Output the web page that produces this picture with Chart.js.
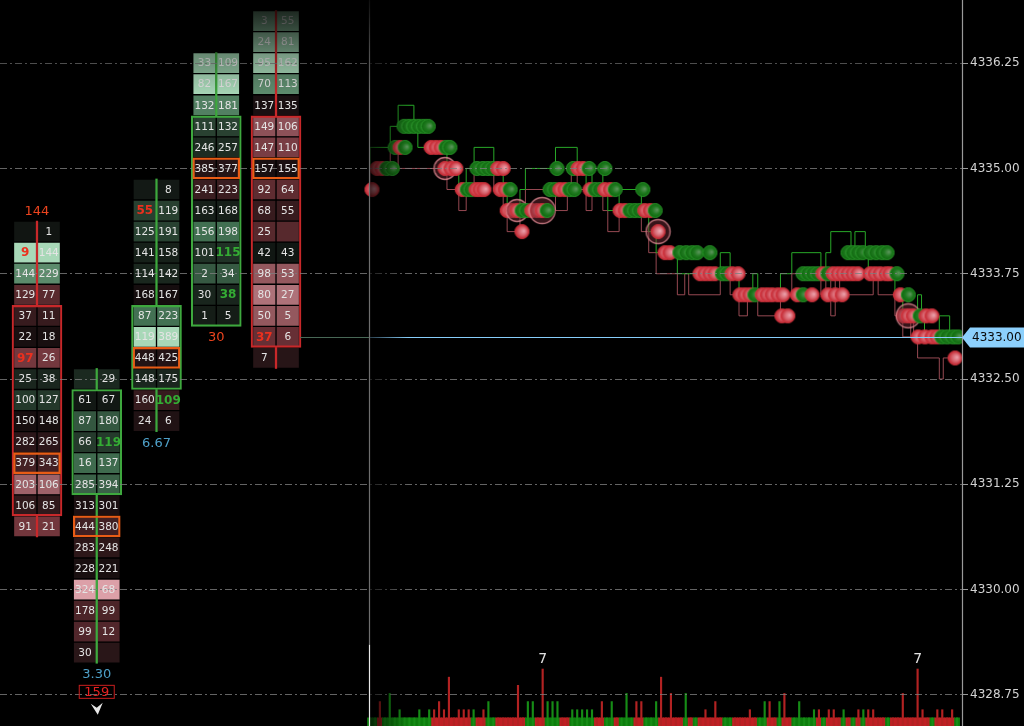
<!DOCTYPE html>
<html><head><meta charset="utf-8">
<script src="https://cdn.jsdelivr.net/npm/chart.js@4.4.1/dist/chart.umd.min.js"></script>
<style>html,body{margin:0;padding:0;background:#000;overflow:hidden}canvas{display:block;background:#000}</style>
</head><body><canvas id="c" width="1024" height="726"></canvas>
<script>
// ================= DATA =================
const TICK = 0.25;
const priceTicks = [4328.75, 4330.00, 4331.25, 4332.50, 4333.75, 4335.00, 4336.25];

// footprint columns (bid x ask per price, listed from the high downwards)
const fpCols  = [0, 1, 2, 3, 4];
const fpHigh  = [4334.25, 4332.50, 4334.75, 4336.25, 4336.75];
const fpOpen  = [4333.25, 4331.25, 4332.50, 4333.25, 4335.50];
const fpClose = [4331.00, 4332.25, 4333.25, 4335.50, 4333.00];
const fpBid = [
  [0, 9, 144, 129, 37, 22, 97, 25, 100, 150, 282, 379, 203, 106, 91],
  [0, 61, 87, 66, 16, 285, 313, 444, 283, 228, 324, 178, 99, 30],
  [0, 55, 125, 141, 114, 168, 87, 119, 448, 148, 160, 24],
  [33, 82, 132, 111, 246, 385, 241, 163, 156, 101, 2, 30, 1],
  [3, 24, 95, 70, 137, 149, 147, 157, 92, 68, 25, 42, 98, 80, 50, 37, 7]
];
const fpAsk = [
  [1, 144, 229, 77, 11, 18, 26, 38, 127, 148, 265, 343, 106, 85, 21],
  [29, 67, 180, 119, 137, 394, 301, 380, 248, 221, 68, 99, 12, 0],
  [8, 119, 191, 158, 142, 167, 223, 389, 425, 175, 109, 6],
  [109, 167, 181, 132, 257, 377, 223, 168, 198, 115, 34, 38, 5],
  [55, 81, 162, 113, 135, 106, 110, 155, 64, 55, 0, 43, 53, 27, 5, 6, 0]
];
const imbalanceRatio = 3;

// column annotations
const noteCol   = [0, 1, 1, 2, 3];
const notePrice = [4334.50, 4329.00, 4328.75, 4331.75, 4333.00];
const noteText  = ['144', '3.30', '159', '6.67', '30'];
const noteKind  = ['red', 'blue', 'alert', 'blue', 'red'];

// tick session: trades [time, price, side, volume]
const trades = [
  [0.4,4334.75,'S',1],[1.4,4335.00,'S',1],[2.4,4335.00,'S',1],[3.4,4335.00,'B',1],[4.5,4335.00,'B',1],
  [5.1,4335.25,'B',1],[6.1,4335.25,'S',1],[7.1,4335.25,'B',1],
  [6.9,4335.50,'B',1],[7.9,4335.50,'B',1],[8.9,4335.50,'B',1],[9.9,4335.50,'B',1],[10.9,4335.50,'B',1],[11.8,4335.50,'B',1],
  [12.4,4335.25,'S',1],[13.4,4335.25,'S',1],[14.4,4335.25,'S',1],[15.4,4335.25,'B',1],[16.2,4335.25,'B',1],
  [15.2,4335.00,'S',5],[16.4,4335.00,'S',1],[17.4,4335.00,'S',1],
  [18.7,4334.75,'S',1],[19.7,4334.75,'B',1],[20.5,4334.75,'B',1],[21.5,4334.75,'S',1],[22.3,4334.75,'S',1],[23.1,4334.75,'S',1],
  [21.7,4335.00,'B',1],[22.9,4335.00,'B',1],[23.9,4335.00,'B',1],[24.9,4335.00,'B',1],[25.9,4335.00,'S',1],[27.0,4335.00,'S',1],
  [26.4,4334.75,'S',1],[27.4,4334.75,'S',1],[28.4,4334.75,'B',1],
  [27.8,4334.50,'S',1],[28.8,4334.50,'S',1],[29.8,4334.50,'S',5],[30.8,4334.50,'B',1],[31.8,4334.50,'B',1],[32.8,4334.50,'S',1],[33.9,4334.50,'S',1],[34.9,4334.50,'S',7],[35.9,4334.50,'B',1],
  [30.8,4334.25,'S',1],
  [36.5,4334.75,'B',1],[37.5,4334.75,'B',1],[38.5,4334.75,'S',1],[39.5,4334.75,'S',1],[40.5,4334.75,'B',1],[41.4,4334.75,'B',1],
  [37.9,4335.00,'B',1],[41.2,4335.00,'B',1],[42.2,4335.00,'S',1],[43.2,4335.00,'S',1],[44.4,4335.00,'B',1],
  [44.6,4334.75,'S',1],[45.6,4334.75,'B',1],[46.6,4334.75,'B',1],[47.6,4334.75,'S',1],[48.7,4334.75,'S',1],[49.7,4334.75,'B',1],
  [47.6,4335.00,'B',1],
  [50.7,4334.50,'S',1],[51.7,4334.50,'S',1],[52.7,4334.50,'B',1],[53.7,4334.50,'B',1],[54.7,4334.50,'B',1],[55.7,4334.50,'S',1],[56.8,4334.50,'S',1],[57.8,4334.50,'B',1],
  [55.3,4334.75,'B',1],
  [58.4,4334.25,'S',6],
  [59.8,4334.00,'S',1],[60.8,4334.00,'S',1],[62.8,4334.00,'B',1],[64.1,4334.00,'B',1],[65.3,4334.00,'B',1],[66.3,4334.00,'B',1],[68.9,4334.00,'B',1],
  [66.9,4333.75,'S',1],[67.9,4333.75,'S',1],[68.9,4333.75,'S',1],[69.9,4333.75,'S',1],[71.4,4333.75,'B',1],[72.4,4333.75,'B',1],[73.4,4333.75,'S',1],[74.6,4333.75,'S',1],
  [75.0,4333.50,'S',1],[76.0,4333.50,'S',1],[77.0,4333.50,'S',1],[78.0,4333.50,'B',1],[79.5,4333.50,'S',1],[80.5,4333.50,'S',1],[81.5,4333.50,'S',1],[82.7,4333.50,'S',1],[83.7,4333.50,'S',1],[86.6,4333.50,'S',1],[87.8,4333.50,'B',1],[89.6,4333.50,'S',1],
  [83.5,4333.25,'S',1],[84.7,4333.25,'S',1],
  [87.8,4333.75,'B',1],[88.8,4333.75,'B',1],[89.8,4333.75,'B',1],[90.8,4333.75,'B',1],[91.8,4333.75,'S',1],[92.8,4333.75,'B',1],[93.9,4333.75,'S',1],[94.9,4333.75,'S',1],[95.9,4333.75,'S',1],[96.9,4333.75,'S',1],[97.9,4333.75,'S',1],[98.9,4333.75,'S',1],
  [92.8,4333.50,'S',1],[94.3,4333.50,'S',1],[95.7,4333.50,'S',1],
  [96.9,4334.00,'B',1],[97.9,4334.00,'B',1],[98.9,4334.00,'B',1],[99.9,4334.00,'B',1],[101.4,4334.00,'B',1],[102.6,4334.00,'B',1],[103.8,4334.00,'B',1],[104.8,4334.00,'B',1],
  [101.4,4333.75,'S',1],[102.4,4333.75,'S',1],[103.4,4333.75,'S',1],[104.6,4333.75,'S',1],[105.4,4333.75,'S',1],[106.8,4333.75,'B',1],
  [107.5,4333.50,'S',1],[109.1,4333.50,'B',1],
  [108.1,4333.25,'S',1],[109.1,4333.25,'S',6],[110.1,4333.25,'S',1],[111.5,4333.25,'B',1],[112.7,4333.25,'S',1],[113.9,4333.25,'S',1],
  [111.1,4333.00,'S',1],[112.5,4333.00,'S',1],[113.9,4333.00,'S',1],[114.9,4333.00,'S',1],[115.9,4333.00,'B',1],[117.0,4333.00,'B',1],[118.2,4333.00,'B',1],[119.2,4333.00,'B',1],
  [118.6,4332.75,'S',1]
];

// best ask / best bid steps [time, price]
const askPath = [[0,4335.00],[4.1,4335.25],[5.7,4335.50],[8.9,4335.75],[9.7,4335.50],[15.6,4335.25],[18.0,4335.00],[19.5,4334.75],[21.1,4335.00],[25.1,4335.25],[27.0,4335.00],[27.8,4334.75],[30.4,4334.50],[31.5,4334.75],[37.6,4335.00],[42.0,4335.25],[43.8,4335.00],[45.0,4334.75],[47.2,4335.00],[48.2,4334.75],[50.5,4334.50],[55.0,4334.75],[56.5,4334.50],[58.0,4334.25],[62.3,4334.00],[71.0,4333.75],[73.0,4334.00],[74.8,4333.75],[77.6,4333.50],[78.6,4333.75],[83.2,4333.50],[85.5,4333.75],[91.4,4334.00],[92.4,4333.75],[93.4,4334.00],[97.5,4334.25],[98.3,4334.00],[100.4,4334.25],[101.0,4334.00],[106.4,4333.75],[108.0,4333.50],[111.0,4333.25],[111.8,4333.50],[112.4,4333.25],[115.4,4333.00],[117.5,4333.25],[118.0,4333.00],[120,4333.00]];
const bidPath = [[0,4334.75],[4.1,4335.00],[5.7,4335.25],[15.6,4335.00],[18.0,4334.75],[19.5,4334.50],[21.1,4334.75],[25.1,4335.00],[27.0,4334.75],[27.8,4334.50],[30.4,4334.25],[31.5,4334.50],[37.6,4334.75],[40.0,4334.50],[40.8,4334.75],[42.0,4335.00],[43.8,4334.75],[45.0,4334.50],[47.2,4334.75],[48.2,4334.50],[50.5,4334.25],[55.0,4334.50],[56.5,4334.25],[58.0,4334.00],[62.3,4333.75],[63.8,4333.50],[64.6,4333.75],[71.0,4333.50],[73.0,4333.75],[74.8,4333.50],[76.5,4333.25],[78.6,4333.50],[83.2,4333.25],[85.5,4333.50],[91.4,4333.75],[92.4,4333.50],[93.4,4333.75],[94.3,4333.25],[95.2,4333.75],[102.0,4333.50],[103.0,4333.75],[106.4,4333.50],[108.0,4333.25],[109.6,4333.00],[110.2,4333.25],[111.0,4333.00],[115.4,4332.75],[116.2,4332.50],[117.0,4332.75],[120,4332.75]];

// volume per tick
const volSide = [
  'B','B','S','B','B','B','B','B','B','B',
  'B','B','B','S','S','S','S','S','S','S',
  'S','B','S','S','B','B','S','S','S','S',
  'S','S','B','B','S','S','B','B','B','S',
  'S','B','B','B','B','B','S','S','B','B',
  'S','B','B','B','S','S','B','B','B','S',
  'S','S','S','S','B','S','B','S','S','S',
  'S','S','B','B','S','S','S','S','S','B',
  'B','S','S','B','S','S','B','B','B','B',
  'B','S','B','S','S','S','B','S','B','S',
  'B','S','S','S','S','B','S','S','S','S',
  'S','S','S','S','B','S','S','S','S','B'
];
const volValue = [
  1,1,3,1,4,1,2,1,1,1,
  2,1,2,2,3,2,6,1,2,2,
  2,2,1,2,3,1,1,1,1,1,
  5,1,3,3,1,7,3,3,3,1,
  1,2,2,2,2,2,1,3,1,3,
  1,1,4,1,3,3,1,1,3,6,
  1,4,1,1,4,1,1,1,2,1,
  3,1,1,1,1,1,1,2,1,1,
  3,3,1,3,4,1,1,3,1,1,
  2,2,1,2,2,1,2,1,1,2,
  2,2,2,1,1,1,1,1,4,1,
  1,7,2,1,1,2,2,1,2,1
];
const lastPrice = 4333.00;
const sessionStart = -0.2;

// ================= STYLE HELPERS =================
const RED = 'rgb(200,40,42)', GREEN = 'rgb(62,168,62)';
const COL_MIN = -0.619, COL_MAX = 15.48;           // column axis window
const HALF = 11.75 * (COL_MAX - COL_MIN) / 962;     // half-cell shift in column units
function lerp(a, b, t) { return a.map((v, i) => Math.round(v + (b[i] - v) * t)); }
function shade(f) {
  const t = Math.min(1, Math.abs(f));
  const s = f >= 0 ? [[16,20,17],[66,112,82],[168,216,184]] : [[20,13,14],[110,50,56],[220,160,168]];
  const c = t < 0.5 ? lerp(s[0], s[1], t / 0.5) : lerp(s[1], s[2], (t - 0.5) / 0.5);
  return 'rgb(' + c.join(',') + ')';
}
function ball(r, c0, c1, c2, stroke, ring) {
  const R = ring || r;
  const s = Math.ceil(R * 2 + 3), cv = document.createElement('canvas');
  cv.width = cv.height = s;
  const g = cv.getContext('2d'), c = s / 2;
  if (ring) {
    g.beginPath(); g.arc(c, c, R, 0, Math.PI * 2);
    g.fillStyle = 'rgba(120,45,55,0.45)'; g.fill();
    g.lineWidth = 1.3; g.strokeStyle = 'rgba(228,140,150,0.8)'; g.stroke();
  }
  const gr = g.createRadialGradient(c + r * 0.3, c - r * 0.1, 0, c, c, r);
  gr.addColorStop(0, c0); gr.addColorStop(0.55, c1); gr.addColorStop(1, c2);
  g.beginPath(); g.arc(c, c, r, 0, Math.PI * 2);
  g.fillStyle = gr; g.fill();
  g.lineWidth = 1; g.strokeStyle = stroke; g.stroke();
  return cv;
}
const redBall = ball(7, 'rgb(236,165,175)', 'rgb(216,100,110)', 'rgb(192,36,46)', 'rgb(212,52,62)');
const greenBall = ball(7, 'rgb(95,150,95)', 'rgb(32,122,32)', 'rgb(14,104,14)', 'rgb(42,150,42)');
const ringCache = {};
function tradeImage(side, vol) {
  if (vol < 5) return side === 'B' ? greenBall : redBall;
  const key = side + vol;
  if (!ringCache[key]) {
    ringCache[key] = side === 'B'
      ? ball(7, 'rgb(95,150,95)', 'rgb(32,122,32)', 'rgb(14,104,14)', 'rgb(42,150,42)', 6 + vol)
      : ball(7, 'rgb(236,175,185)', 'rgb(216,110,120)', 'rgb(192,36,46)', 'rgb(212,52,62)', 6 + vol);
  }
  return ringCache[key];
}

// ================= BUILD DATASETS =================
const cellList = [], bidCells = [], askCells = [], cellBg = [];
fpCols.forEach((c, ci) => {
  const bids = fpBid[ci], asks = fpAsk[ci];
  const maxAbs = Math.max(...bids.map((b, r) => Math.abs(asks[r] - b)));
  bids.forEach((b, r) => {
    const p = fpHigh[ci] - r * TICK;
    bidCells.push({ x: c, y: [p - TICK / 2, p + TICK / 2] });
    askCells.push({ x: c, y: [p - TICK / 2, p + TICK / 2] });
    cellBg.push(shade((asks[r] - b) / maxAbs));
    cellList.push({ ci, r, p });
  });
});
const wickData = [], wickColor = [], bodyData = [], bodyColor = [], pocData = [];
fpCols.forEach((c, ci) => {
  const n = fpBid[ci].length, hi = fpHigh[ci], lo = hi - (n - 1) * TICK;
  const top = Math.max(fpOpen[ci], fpClose[ci]), bot = Math.min(fpOpen[ci], fpClose[ci]);
  const col = fpClose[ci] >= fpOpen[ci] ? GREEN : RED;
  if (hi > top) { wickData.push({ x: c, y: [top + TICK / 2, hi + TICK / 2] }); wickColor.push(col); }
  if (lo < bot) { wickData.push({ x: c, y: [lo - TICK / 2, bot - TICK / 2] }); wickColor.push(col); }
  bodyData.push({ x: c, y: [bot - TICK / 2, top + TICK / 2] }); bodyColor.push(col);
  let best = 0;
  fpBid[ci].forEach((b, r) => { if (b + fpAsk[ci][r] > fpBid[ci][best] + fpAsk[ci][best]) best = r; });
  const pp = hi - best * TICK;
  pocData.push({ x: c, y: [pp - TICK / 2, pp + TICK / 2] });
});
const volMax = Math.max(...volValue);

// ================= PLUGIN (texts, lines, labels) =================
const fpPlugin = {
  id: 'fp',
  afterDraw(chart) {
    const ctx = chart.ctx, xs = chart.scales.x, ys = chart.scales.y, x2 = chart.scales.x2, yv = chart.scales.yVol;
    const area = chart.chartArea;
    const bidMeta = chart.getDatasetMeta(chart.data.datasets.findIndex(d => d.label === 'bid'));
    const askMeta = chart.getDatasetMeta(chart.data.datasets.findIndex(d => d.label === 'ask'));
    ctx.save();
    ctx.textAlign = 'center'; ctx.textBaseline = 'middle';
    // cell numbers
    cellList.forEach((cl, k) => {
      const { ci, r, p } = cl;
      const y = ys.getPixelForValue(p) + 0.5;
      const b = fpBid[ci][r], a = fpAsk[ci][r];
      const askAbove = r > 0 ? fpAsk[ci][r - 1] : 0;
      const bidBelow = r < fpBid[ci].length - 1 ? fpBid[ci][r + 1] : 0;
      if (b > 0) {
        const hot = askAbove > 0 && b >= imbalanceRatio * askAbove;
        ctx.font = hot ? 'bold 12px "DejaVu Sans"' : '10.5px "DejaVu Sans"';
        ctx.fillStyle = hot ? 'rgb(236,48,30)' : '#e4e4e4';
        ctx.fillText(String(b), bidMeta.data[k].x, y);
      }
      if (a > 0) {
        const hot = bidBelow > 0 && a >= imbalanceRatio * bidBelow;
        ctx.font = hot ? 'bold 12px "DejaVu Sans"' : '10.5px "DejaVu Sans"';
        ctx.fillStyle = hot ? 'rgb(52,172,52)' : '#e4e4e4';
        ctx.fillText(String(a), askMeta.data[k].x, y);
      }
    });
    // column annotations
    noteText.forEach((t, i) => {
      const x = xs.getPixelForValue(noteCol[i]), y = ys.getPixelForValue(notePrice[i]);
      if (noteKind[i] === 'blue') {
        ctx.font = '13px "DejaVu Sans"'; ctx.fillStyle = 'rgb(78,160,200)'; ctx.fillText(t, x, y + 1);
      } else if (noteKind[i] === 'red') {
        ctx.font = '13px "DejaVu Sans"'; ctx.fillStyle = 'rgb(236,68,30)'; ctx.fillText(t, x, y + 1);
      } else {
        const yy = y - 3;
        ctx.strokeStyle = 'rgb(200,30,30)'; ctx.lineWidth = 1;
        ctx.strokeRect(x - 17.5, yy - 6.5, 35, 13);
        ctx.font = '13px "DejaVu Sans"'; ctx.fillStyle = 'rgb(232,32,32)'; ctx.fillText(t, x, yy + 1);
        const ay = yy + 17;
        ctx.beginPath();
        ctx.moveTo(x - 6, ay - 5); ctx.lineTo(x, ay - 1); ctx.lineTo(x + 6, ay - 6); ctx.lineTo(x + 1, ay + 6); ctx.closePath();
        ctx.fillStyle = '#e8e8e8'; ctx.fill();
      }
    });
    // volume max labels
    ctx.font = '14px "DejaVu Sans"'; ctx.fillStyle = '#e0e0e0';
    volValue.forEach((v, i) => {
      if (v === volMax) ctx.fillText(String(v), x2.getPixelForValue(i), yv.getPixelForValue(v) - 10);
    });
    // last price line: dim across the footprint gap, bright across the tick session
    const py = Math.round(ys.getPixelForValue(lastPrice)) + 0.5;
    const sx = Math.round(x2.getPixelForValue(sessionStart)) + 0.5;
    ctx.lineWidth = 1.2;
    ctx.strokeStyle = 'rgb(72,104,86)';
    ctx.beginPath(); ctx.moveTo(xs.getPixelForValue(fpCols[fpCols.length - 1]) + 24, py); ctx.lineTo(sx, py); ctx.stroke();
    ctx.strokeStyle = 'rgb(135,206,250)';
    ctx.beginPath(); ctx.moveTo(sx, py); ctx.lineTo(area.right, py); ctx.stroke();
    // session-start fade (horizontal)
    const fx = x2.getPixelForValue(sessionStart + 8);
    const hg = ctx.createLinearGradient(sx, 0, fx, 0);
    hg.addColorStop(0, 'rgba(0,0,0,0.7)'); hg.addColorStop(1, 'rgba(0,0,0,0)');
    ctx.fillStyle = hg; ctx.fillRect(sx, area.top, fx - sx, area.bottom - area.top);
    // session line
    const vTop = yv.getPixelForValue(10);
    ctx.lineWidth = 1.2;
    ctx.strokeStyle = '#6e6e6e';
    ctx.beginPath(); ctx.moveTo(sx, area.top); ctx.lineTo(sx, vTop); ctx.stroke();
    ctx.strokeStyle = '#e8e8e8';
    ctx.beginPath(); ctx.moveTo(sx, vTop); ctx.lineTo(sx, area.bottom); ctx.stroke();
    // top fade
    const vg = ctx.createLinearGradient(0, area.top, 0, area.top + 96);
    vg.addColorStop(0, 'rgba(0,0,0,0.88)'); vg.addColorStop(0.25, 'rgba(0,0,0,0.62)');
    vg.addColorStop(0.55, 'rgba(0,0,0,0.3)'); vg.addColorStop(1, 'rgba(0,0,0,0)');
    ctx.fillStyle = vg; ctx.fillRect(area.left, area.top, area.right - area.left, 96);
    // price axis line
    const ax = Math.round(area.right) + 0.5;
    ctx.strokeStyle = '#9a9a9a'; ctx.lineWidth = 1.2;
    ctx.beginPath(); ctx.moveTo(ax, 0); ctx.lineTo(ax, chart.height); ctx.stroke();
    // last price label on axis
    const lx = area.right;
    ctx.beginPath();
    ctx.moveTo(lx, py); ctx.lineTo(lx + 8, py - 10); ctx.lineTo(chart.width, py - 10);
    ctx.lineTo(chart.width, py + 10); ctx.lineTo(lx + 8, py + 10); ctx.closePath();
    ctx.fillStyle = 'rgb(140,208,252)'; ctx.fill();
    ctx.textAlign = 'left'; ctx.fillStyle = '#0a0a0a'; ctx.font = '12px "DejaVu Sans"';
    ctx.fillText(lastPrice.toFixed(2), lx + 10, py + 0.5);
    ctx.restore();
  }
};

// ================= CHART =================
new Chart(document.getElementById('c'), {
  type: 'bar',
  data: {
    datasets: [
      { label: 'poc', type: 'bar', xAxisID: 'x', yAxisID: 'y', data: pocData, grouped: false, barThickness: 47,
        backgroundColor: 'rgba(0,0,0,0)', borderColor: 'rgb(232,92,22)', borderWidth: 1.6, borderSkipped: false, order: 2 },
      { label: 'body', type: 'bar', xAxisID: 'x', yAxisID: 'y', data: bodyData, grouped: false, barThickness: 50,
        backgroundColor: 'rgba(0,0,0,0)', borderColor: bodyColor, borderWidth: 1.5, borderSkipped: false, order: 3 },
      { label: 'wick', type: 'bar', xAxisID: 'x', yAxisID: 'y', data: wickData, grouped: false, barThickness: 1.6,
        backgroundColor: wickColor, borderWidth: 0, order: 4 },
      { label: 'bid', type: 'bar', xAxisID: 'xBid', yAxisID: 'y', data: bidCells, grouped: false, barThickness: 23.5,
        backgroundColor: cellBg, borderColor: 'rgba(0,0,0,0.85)', borderWidth: 1, borderSkipped: false, order: 5 },
      { label: 'ask', type: 'bar', xAxisID: 'xAsk', yAxisID: 'y', data: askCells, grouped: false, barThickness: 23.5,
        backgroundColor: cellBg, borderColor: 'rgba(0,0,0,0.85)', borderWidth: 1, borderSkipped: false, order: 5 },
      { label: 'trades', type: 'scatter', xAxisID: 'x2', yAxisID: 'y',
        data: trades.map(t => ({ x: t[0], y: t[1] })), showLine: false, pointRadius: 7,
        pointStyle: (c) => tradeImage(trades[c.dataIndex][2], trades[c.dataIndex][3]), order: 10 },
      { label: 'ask line', type: 'line', xAxisID: 'x2', yAxisID: 'y',
        data: askPath.map(p => ({ x: p[0], y: p[1] })), stepped: 'after', pointRadius: 0,
        borderColor: 'rgb(40,168,40)', borderWidth: 1, fill: false, order: 14 },
      { label: 'bid line', type: 'line', xAxisID: 'x2', yAxisID: 'y',
        data: bidPath.map(p => ({ x: p[0], y: p[1] })), stepped: 'after', pointRadius: 0,
        borderColor: 'rgba(176,86,96,0.85)', borderWidth: 1, fill: false, order: 15 },
      { label: 'vol spikes', type: 'bar', xAxisID: 'x2', yAxisID: 'yVol', grouped: false, barThickness: 1.5,
        data: volValue.map((v, i) => ({ x: i, y: v })),
        backgroundColor: volSide.map(s => s === 'B' ? 'rgb(22,140,22)' : 'rgb(178,34,34)'), borderWidth: 0, order: 19 },
      { label: 'vol base', type: 'bar', xAxisID: 'x2', yAxisID: 'yVol', grouped: false, barThickness: 5.1,
        data: volValue.map((v, i) => ({ x: i, y: Math.min(v, 1) })),
        backgroundColor: volSide.map(s => s === 'B' ? 'rgb(14,126,14)' : 'rgb(192,32,36)'), borderWidth: 0, order: 20 }
    ]
  },
  options: {
    responsive: false, animation: false, devicePixelRatio: 1, events: [],
    layout: { padding: 0, autoPadding: false },
    plugins: { legend: { display: false }, tooltip: { enabled: false } },
    scales: {
      x:    { type: 'linear', display: false, offset: false, stacked: false, min: COL_MIN, max: COL_MAX, ticks: { stepSize: 1 } },
      xBid: { type: 'linear', display: false, offset: false, stacked: false, min: COL_MIN + HALF, max: COL_MAX + HALF, ticks: { stepSize: 1 } },
      xAsk: { type: 'linear', display: false, offset: false, stacked: false, min: COL_MIN - HALF, max: COL_MAX - HALF, ticks: { stepSize: 1 } },
      x2:   { type: 'linear', display: false, offset: false, stacked: false, min: -75, max: 120, ticks: { stepSize: 5 } },
      yVol: { type: 'linear', display: false, stacked: false, min: 0, max: 89.2 },
      y: {
        type: 'linear', position: 'right', stacked: false, min: 4328.38, max: 4337.0,
        afterBuildTicks: (s) => { s.ticks = priceTicks.map(v => ({ value: v })); },
        afterFit: (s) => { s.width = 62; s.paddingTop = 0; s.paddingBottom = 0; },
        grid: { z: 1, color: 'rgba(125,125,125,0.8)', lineWidth: 1, drawTicks: true, tickLength: 6, tickColor: '#9a9a9a', tickWidth: 1, tickBorderDash: [] },
        border: { display: false, dash: [7, 3, 2, 3] },
        ticks: { color: '#d2d2d2', padding: 2, font: { family: 'DejaVu Sans', size: 12 }, callback: (v) => Number(v).toFixed(2) }
      }
    }
  },
  plugins: [fpPlugin]
});
</script>
</body></html>
